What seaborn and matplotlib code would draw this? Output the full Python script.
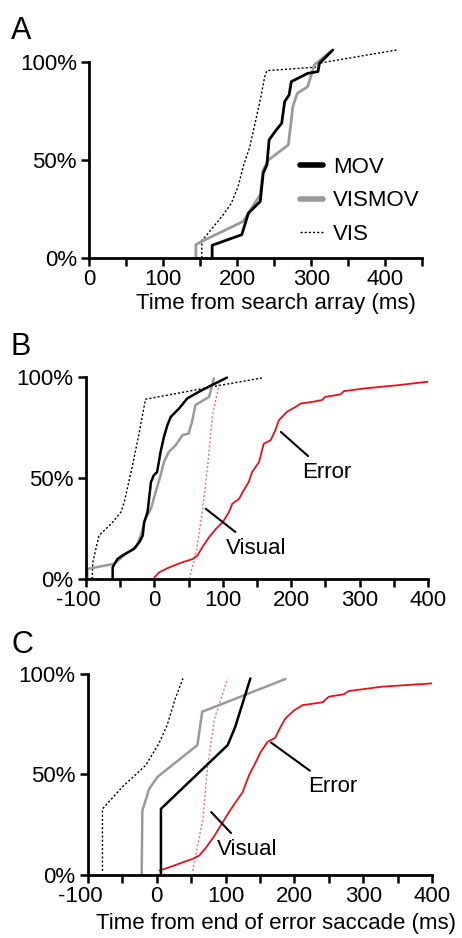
import pandas as pd
import numpy as np
import matplotlib
matplotlib.use('Agg')
import matplotlib.pyplot as plt
import matplotlib.transforms as mtransforms
from matplotlib.lines import Line2D
import seaborn as sns

# ---- Panel A: time from search array (ms) vs cumulative fraction ----
a_mov_x = [166, 166, 206, 215, 222, 231, 235, 240, 243, 251, 260, 264, 270, 273, 295, 309, 311, 329]
a_mov_y = [0, 0.065, 0.119, 0.229, 0.255, 0.289, 0.433, 0.475, 0.603, 0.645, 0.688, 0.798, 0.832, 0.90, 0.942, 0.951, 0.993, 1.061]
a_vismov_x = [144, 144, 152, 208, 215, 231, 235, 242, 269, 275, 281, 295, 300, 304, 327]
a_vismov_y = [0, 0.068, 0.085, 0.187, 0.229, 0.323, 0.45, 0.50, 0.577, 0.772, 0.840, 0.874, 0.934, 0.985, 1.056]
a_vis_x = [152, 152, 157, 168, 181, 192, 201, 208, 217, 224, 231, 237, 240, 307, 312, 418]
a_vis_y = [0, 0.09, 0.11, 0.161, 0.221, 0.280, 0.365, 0.467, 0.569, 0.688, 0.806, 0.925, 0.956, 0.974, 0.995, 1.063]

# ---- Panel B ----
b_mov_x = [-61, -61, -54, -47, -30, -22, -17, -15, -10, -5, -1, 4, 9, 14, 19, 24, 36, 48, 65, 84, 106]
b_mov_y = [0, 0.058, 0.099, 0.116, 0.149, 0.182, 0.215, 0.281, 0.331, 0.48, 0.513, 0.53, 0.629, 0.704, 0.762, 0.803, 0.844, 0.894, 0.927, 0.96, 0.997]
b_vismov_x = [-98, -98, -59, -42, -27, -20, -13, -5, -1, 4, 9, 14, 21, 31, 41, 50, 55, 60, 80, 87]
b_vismov_y = [0, 0.05, 0.075, 0.124, 0.157, 0.215, 0.298, 0.348, 0.397, 0.455, 0.513, 0.58, 0.629, 0.662, 0.712, 0.72, 0.778, 0.861, 0.902, 0.993]
b_vis_x = [-91, -90, -81, -61, -49, -44, -32, -22, -13, 96, 160]
b_vis_y = [0, 0.083, 0.215, 0.281, 0.331, 0.381, 0.563, 0.728, 0.89, 0.959, 0.997]
b_err_x = [0, 7, 22, 41, 56, 63, 70, 80, 90, 100, 109, 114, 124, 129, 138, 143, 153, 160, 170, 177,
           182, 194, 207, 214, 231, 245, 250, 272, 277, 308, 357, 400]
b_err_y = [0.008, 0.033, 0.058, 0.083, 0.099, 0.116, 0.157, 0.207, 0.248, 0.281, 0.331, 0.373, 0.397, 0.43,
           0.48, 0.53, 0.579, 0.67, 0.687, 0.737, 0.786, 0.828, 0.853, 0.869, 0.877, 0.886, 0.902, 0.914,
           0.93, 0.944, 0.96, 0.977]
b_visual_x = [51, 61, 70, 78, 85, 95]
b_visual_y = [0, 0.132, 0.331, 0.563, 0.811, 0.969]

# ---- Panel C: time from end of error saccade (ms) ----
c_mov_x = [6, 6, 103, 114, 136]
c_mov_y = [0, 0.329, 0.646, 0.737, 0.978]
c_vismov_x = [-22, -21, -11, 1, 59, 66, 187]
c_vismov_y = [0, 0.321, 0.429, 0.488, 0.646, 0.812, 0.975]
c_vis_x = [-79, -79, -50, -16, 3, 15, 27, 38]
c_vis_y = [0.02, 0.329, 0.438, 0.546, 0.654, 0.745, 0.879, 0.978]
c_err_x = [4, 18, 38, 52, 62, 72, 84, 93, 105, 113, 125, 134, 144, 151, 161, 172, 180, 187, 200, 212,
           241, 250, 272, 279, 328, 400]
c_err_y = [0.022, 0.038, 0.063, 0.08, 0.097, 0.138, 0.196, 0.246, 0.313, 0.354, 0.413, 0.496, 0.562,
           0.612, 0.662, 0.682, 0.737, 0.779, 0.82, 0.845, 0.859, 0.887, 0.899, 0.915, 0.937, 0.953]
c_visual_x = [52, 67, 74, 84, 103]
c_visual_y = [0.02, 0.28, 0.546, 0.779, 0.978]

# annotation labels: (text, point on curve, text centre)
b_notes = [('Error', (185, 0.728), (252, 0.527)), ('Visual', (75, 0.348), (149, 0.152))]
c_notes = [('Error', (166, 0.659), (255, 0.438)), ('Visual', (79, 0.313), (131, 0.125))]

sns.set_style('ticks')
plt.rcParams['font.family'] = ['Liberation Sans', 'DejaVu Sans']
plt.rcParams['text.color'] = 'black'
plt.rcParams['axes.labelcolor'] = 'black'
plt.rcParams['xtick.labelcolor'] = 'black'
plt.rcParams['ytick.labelcolor'] = 'black'
FS = 16
GRAY = '#9a9a9a'
RED = '#e8101a'
PINK = '#f07080'

fig = plt.figure(figsize=(4.62, 9.38), dpi=100)
ax_a = fig.add_axes([0.1933, 0.7249, 0.7208, 0.2299])
ax_b = fig.add_axes([0.1861, 0.3827, 0.7403, 0.2261])
ax_c = fig.add_axes([0.1905, 0.0672, 0.7446, 0.2250])


def draw(ax, x, y, **kw):
    df = pd.DataFrame({'x': x, 'y': y})
    sns.lineplot(data=df, x='x', y='y', ax=ax, sort=False, estimator=None, legend=False, **kw)


def style(ax, xmin, xmax, ymax):
    ax.set_xlim(xmin, xmax)
    ax.set_ylim(0, ymax)
    for s in ['top', 'right']:
        ax.spines[s].set_visible(False)
    for s in ['left', 'bottom']:
        ax.spines[s].set_linewidth(2.0)
        ax.spines[s].set_color('black')
    ax.spines['left'].set_bounds(0, 1)
    ax.spines['bottom'].set_bounds(xmin, xmax)
    major = np.arange(xmin, 401, 100)
    ax.set_xticks(major)
    ax.set_xticklabels([str(v) for v in major])
    ax.set_xticks(np.arange(xmin, xmax + 1, 50), minor=True)
    ax.set_yticks([0, 0.5, 1])
    ax.set_yticklabels(['0%', '50%', '100%'])
    ax.tick_params(axis='both', which='both', direction='out', length=6, width=1.8,
                   color='black', labelcolor='black', labelsize=FS, pad=2)
    ax.tick_params(axis='y', pad=3)
    ax.set_xlabel('')
    ax.set_ylabel('')
    for lab in ax.get_xticklabels():
        if lab.get_text().startswith('-'):
            lab.set_transform(lab.get_transform() +
                              mtransforms.ScaledTranslation(-8 / 100, 0, fig.dpi_scale_trans))


# Panel A
draw(ax_a, a_vis_x, a_vis_y, color='black', lw=1.0, linestyle=(0, (1.5, 1.5)))
draw(ax_a, a_vismov_x, a_vismov_y, color=GRAY, lw=2.0)
draw(ax_a, a_mov_x, a_mov_y, color='black', lw=2.0)
style(ax_a, 0, 450, 1.1)
ax_a.set_xlabel('Time from search array (ms)', fontsize=FS)
ax_a.xaxis.set_label_coords(0.56, -0.163)
handles = [Line2D([], [], color='black', lw=4),
           Line2D([], [], color=GRAY, lw=4),
           Line2D([], [], color='black', lw=1.0, linestyle=(0, (1.5, 1.5)))]
ax_a.legend(handles, ['MOV', 'VISMOV', 'VIS'], loc='upper left', bbox_to_anchor=(0.634, 0.468),
            frameon=False, fontsize=FS, borderpad=0, borderaxespad=0, handlelength=1.0,
            handletextpad=0.45, labelspacing=0.55)

# Panel B
draw(ax_b, b_vis_x, b_vis_y, color='black', lw=1.0, linestyle=(0, (1.5, 1.5)))
draw(ax_b, b_visual_x, b_visual_y, color=PINK, lw=1.0, linestyle=(0, (1.5, 1.5)))
draw(ax_b, b_err_x, b_err_y, color=RED, lw=1.3)
draw(ax_b, b_vismov_x, b_vismov_y, color=GRAY, lw=1.8)
draw(ax_b, b_mov_x, b_mov_y, color='black', lw=1.8)
style(ax_b, -100, 400, 1.05)

# Panel C
draw(ax_c, c_vis_x, c_vis_y, color='black', lw=1.0, linestyle=(0, (1.5, 1.5)))
draw(ax_c, c_visual_x, c_visual_y, color=PINK, lw=1.0, linestyle=(0, (1.5, 1.5)))
draw(ax_c, c_err_x, c_err_y, color=RED, lw=1.3)
draw(ax_c, c_vismov_x, c_vismov_y, color=GRAY, lw=1.8)
draw(ax_c, c_mov_x, c_mov_y, color='black', lw=1.8)
style(ax_c, -100, 400, 1.05)
ax_c.set_xlabel('Time from end of error saccade (ms)', fontsize=FS)
ax_c.xaxis.set_label_coords(0.547, -0.178)

for ax, notes in [(ax_b, b_notes), (ax_c, c_notes)]:
    for text, xy, xyt in notes:
        ax.annotate(text, xy=xy, xytext=xyt, ha='center', va='center', fontsize=FS,
                    arrowprops=dict(arrowstyle='-', color='black', lw=1.5, shrinkA=3, shrinkB=0))

# panel letters
fig.text(0.024, 0.958, 'A', fontsize=22)
fig.text(0.022, 0.6215, 'B', fontsize=22)
fig.text(0.024, 0.3038, 'C', fontsize=22)

fig.savefig('out.png', dpi=100)
